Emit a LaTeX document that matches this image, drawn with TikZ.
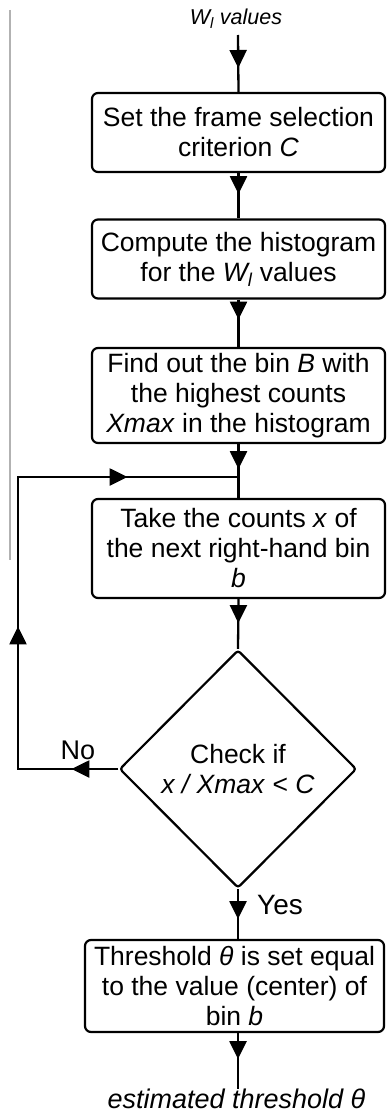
\documentclass[tikz,border=0pt]{standalone}
\usepackage{fontspec}
\setmainfont{Liberation Sans}
\usetikzlibrary{arrows.meta,decorations.markings,shapes.geometric}
\tikzset{
  tri/.tip={Triangle[length=18pt,width=17pt]},
  stepbox/.style={draw, line width=2.2pt, rounded corners=6pt, align=center,
    inner sep=0pt, font=\fontsize{26.5}{30}\selectfont},
  decision/.style={draw, diamond, shape aspect=1, line width=2.2pt, rounded corners=3pt,
    inner sep=0pt, align=center, font=\fontsize{26.5}{30}\selectfont},
  lbl/.style={inner sep=0pt, align=center},
  conn/.style={line width=2.3pt},
  tipat/.style={postaction={decorate, decoration={markings, mark=at position #1 with {\arrow{tri}}}}},
}
\begin{document}
\begin{tikzpicture}[x=1pt, y=-1pt]
\useasboundingbox (0,0) rectangle (386,1116);
% stray gray rule
\draw[gray!60, line width=1.4pt] (10,10) -- (10,560);

\node[lbl, font=\fontsize{21.5}{24}\selectfont\itshape] (in) at (236,19) {W\textsubscript{l} values};
\coordinate (inb) at (238,35);

\node[stepbox, minimum width=293pt, minimum height=79pt] (b1) at (238.5,132.5)
  {Set the frame selection\\criterion \textit{C}};
\node[stepbox, minimum width=293pt, minimum height=79pt] (b2) at (238.5,259)
  {Compute the histogram\\for the \textit{W\textsubscript{l}} values};
\node[stepbox, minimum width=293pt, minimum height=95pt] (b3) at (238.5,395.5)
  {Find out the bin \textit{B} with\\the highest counts\\\textit{Xmax} in the histogram};
\node[stepbox, minimum width=293pt, minimum height=99pt] (b4) at (238.5,548.5)
  {Take the counts \textit{x} of\\the next right-hand bin\\\textit{b}};
\node[decision, minimum width=237pt, minimum height=238pt] (d) at (238,769)
  {Check if\\\textit{x / Xmax} \textless{} \textit{C}};
\node[stepbox, minimum width=299pt, minimum height=92pt] (b5) at (234.5,986)
  {Threshold \textit{θ} is set equal\\to the value (center) of\\bin \textit{b}};
\node[lbl, font=\fontsize{27}{30}\selectfont\itshape, anchor=north] (out) at (236.5,1089)
  {estimated threshold θ};

\node[lbl, font=\fontsize{27}{29}\selectfont] (no) at (78,750) {No};
\node[lbl, font=\fontsize{28}{30}\selectfont] (yes) at (280,905) {Yes};

\draw[conn, tipat=33pt] (inb) -- (b1.north);
\draw[conn, tipat=21pt] (b1.south) -- (b2.north);
\draw[conn, tipat=20pt] (b2.south) -- (b3.north);
\draw[conn, tipat=25pt] (b3.south) -- (b4.north);
\draw[conn, tipat=24pt] (b4.south) -- (d.north);
\draw[conn, tipat=30pt] (d.south) -- (d.south |- b5.north);
\draw[conn, tipat=26pt] (d.south |- b5.south) -- (out.north -| d.south);

\coordinate (lc) at (18,769);
\coordinate (tc) at (18,477);
\coordinate (j) at (238,477);
\draw[conn, line join=miter, tipat=47pt, tipat=243pt, tipat=502pt] (d.west) -- (lc) -- (tc) -- (j);
\end{tikzpicture}
\end{document}
